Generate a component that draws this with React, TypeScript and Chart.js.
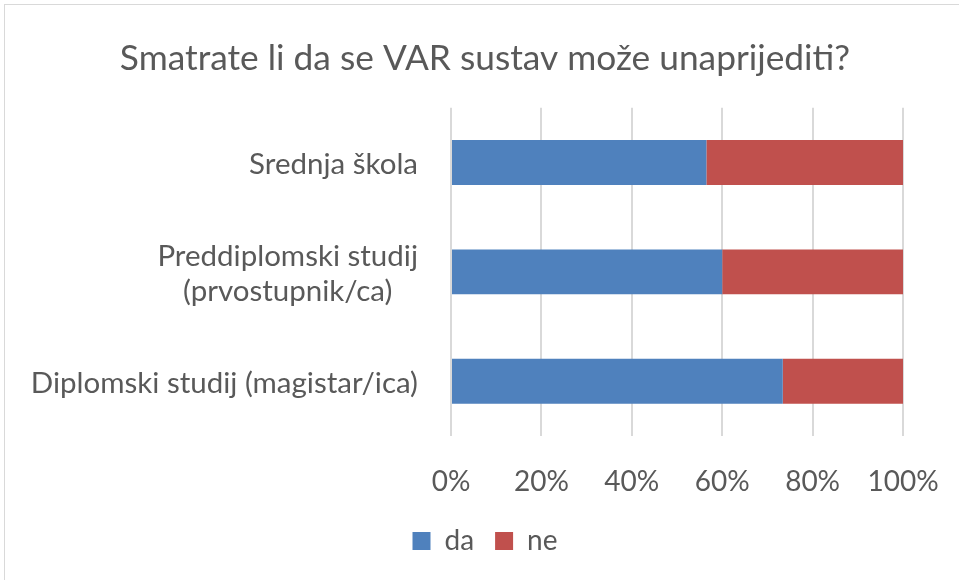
import React, { useEffect, useRef } from "react";
import { Chart, registerables } from "chart.js";

Chart.register(...registerables);

const categories: (string | string[])[] = [
  "Srednja škola",
  ["Preddiplomski studij", "(prvostupnik/ca)"],
  "Diplomski studij (magistar/ica)",
];
const daValues = [56.5, 60.0, 73.4];
const neValues = [43.5, 40.0, 26.6];
const xTicks = [0, 20, 40, 60, 80, 100];
const titleText = "Smatrate li da se VAR sustav može unaprijediti?";

const FONT = "Lato, 'Open Sans', sans-serif";
const TEXT = "#595959";

const borderPlugin = {
  id: "frameBorder",
  beforeDraw(chart: any) {
    const ctx = chart.ctx;
    ctx.save();
    ctx.fillStyle = "#ffffff";
    ctx.fillRect(0, 0, chart.width, chart.height);
    ctx.strokeStyle = "#d9d9d9";
    ctx.lineWidth = 1;
    ctx.strokeRect(4.5, 4.5, chart.width + 10, chart.height + 10);
    ctx.restore();
  },
};

const yLabelPlugin = {
  id: "yLabels",
  afterDraw(chart: any) {
    const ctx = chart.ctx;
    const yScale = chart.scales.y;
    const rightEdge = 418;
    const lineH = 35;
    ctx.save();
    ctx.font = `29.5px ${FONT}`;
    ctx.fillStyle = TEXT;
    ctx.textBaseline = "middle";
    ctx.textAlign = "center";
    categories.forEach((lab, i) => {
      const lines = Array.isArray(lab) ? lab : [lab];
      const maxW = Math.max(...lines.map((l) => ctx.measureText(l).width));
      const cx = rightEdge - maxW / 2;
      const cy = yScale.getPixelForValue(i) + 2;
      const startY = cy - ((lines.length - 1) * lineH) / 2;
      lines.forEach((l, k) => ctx.fillText(l, cx, startY + k * lineH));
    });
    ctx.restore();
  },
};

export default function App() {
  const ref = useRef<HTMLCanvasElement | null>(null);
  useEffect(() => {
    document.body.style.margin = "0";
    if (!ref.current) return;
    const chart = new Chart(ref.current, {
      type: "bar",
      data: {
        labels: categories as any,
        datasets: [
          { label: "da", data: daValues, backgroundColor: "#4f81bd", barPercentage: 0.41, categoryPercentage: 1 },
          { label: "ne", data: neValues, backgroundColor: "#c0504d", barPercentage: 0.41, categoryPercentage: 1 },
        ],
      },
      options: {
        indexAxis: "y",
        animation: false,
        responsive: false,
        layout: { padding: { top: 0, right: 56, bottom: 15, left: 67 } },
        plugins: {
          title: {
            display: true,
            text: titleText,
            color: TEXT,
            font: { family: FONT, size: 35.3, weight: "normal" },
            padding: { top: 37, bottom: 28.4 },
          },
          legend: {
            display: true,
            position: "bottom",
            labels: {
              color: TEXT,
              font: { family: FONT, size: 28 },
              boxWidth: 18,
              boxHeight: 18,
              padding: 21,
            },
          },
          tooltip: { enabled: false },
        },
        scales: {
          x: {
            stacked: true,
            min: 0,
            max: 100,
            afterBuildTicks(scale: any) {
              scale.ticks = xTicks.map((v) => ({ value: v }));
            },
            afterFit(scale: any) {
              scale.height = 70;
              scale.paddingLeft = 0;
              scale.paddingRight = 0;
            },
            ticks: {
              color: TEXT,
              font: { family: FONT, size: 28 },
              padding: 29,
              callback: (v: any) => `${v}%`,
            },
            grid: { color: "#d9d9d9", lineWidth: 2, drawTicks: false, tickLength: 0 },
            border: { display: false },
          },
          y: {
            stacked: true,
            ticks: { display: false },
            grid: { display: false },
            border: { display: false },
            afterFit(scale: any) {
              scale.width = 384;
            },
          },
        },
      },
      plugins: [borderPlugin, yLabelPlugin],
    });
    return () => chart.destroy();
  }, []);
  return (
    <div style={{ width: 959, height: 580 }}>
      <canvas ref={ref} width={959} height={580} style={{ display: "block" }} />
    </div>
  );
}
